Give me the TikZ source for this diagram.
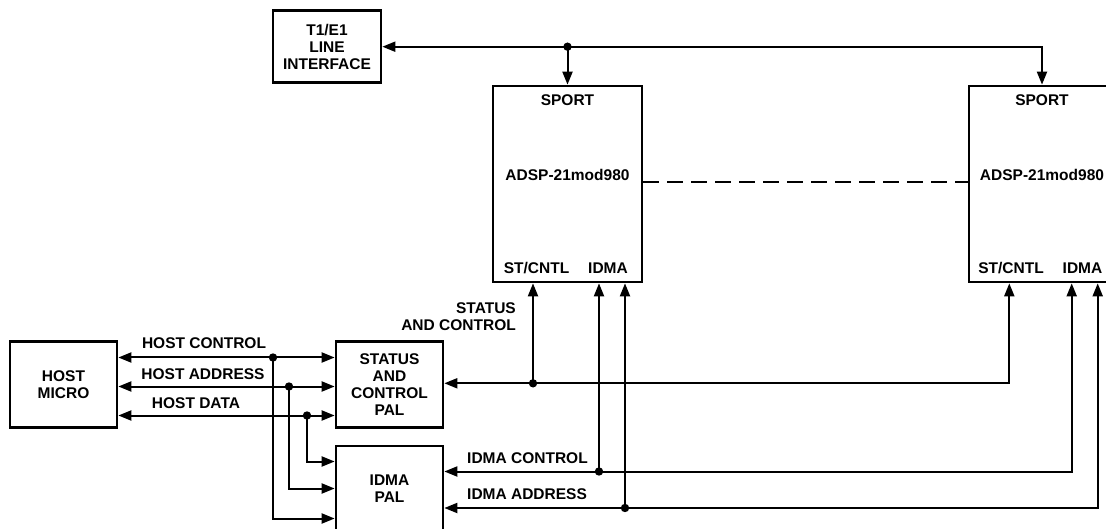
\documentclass[tikz,border=0pt]{standalone}
\usepackage{fontspec}
\setmainfont{Liberation Sans}
\usetikzlibrary{arrows.meta}
\begin{document}
\begin{tikzpicture}[x=1pt,y=-1pt,
  every node/.style={font=\fontsize{15.5}{17}\selectfont\bfseries, inner sep=0pt},
  blk/.style={draw, line width=2.7pt, align=center},
  lbl/.style={align=center},
  wire/.style={line width=2pt},
  arr/.style={wire,-{Triangle[length=13pt,width=10pt]}},
  arrb/.style={wire,{Triangle[length=13pt,width=10pt]}-{Triangle[length=13pt,width=10pt]}},
  dashln/.style={line width=2.8pt, dash pattern=on 16pt off 8pt}]
\useasboundingbox (0,0) rectangle (1106,529);
\clip (0,0) rectangle (1106,529);

% blocks
\node[blk, minimum width=108, minimum height=72] (t1) at (327,46.7) {T1/E1\\LINE\\INTERFACE};
\node[blk, minimum width=149, minimum height=196] (dsp1) at (567.5,184) {};
\node[blk, minimum width=146, minimum height=196] (dsp2) at (1042,184) {};
\node[blk, minimum width=107, minimum height=86] (host) at (63.5,384.7) {HOST\\MICRO};
\node[blk, minimum width=107, minimum height=86] (stpal) at (389.5,384.7) {STATUS\\AND\\CONTROL\\PAL};
\node[blk, minimum width=107, minimum height=85] (idmapal) at (389.5,488.5) {IDMA\\PAL};

% labels inside DSP boxes
\node (sp1) at ([yshift=84]dsp1.center) {SPORT};
\node (ad1) at ([yshift=9]dsp1.center) {ADSP-21mod980};
\node (st1) at ([xshift=-31,yshift=-84]dsp1.center) {ST/CNTL};
\node (id1) at ([xshift=40.5,yshift=-84]dsp1.center) {IDMA};
\node (sp2) at ([yshift=84]dsp2.center) {SPORT};
\node (ad2) at ([yshift=9]dsp2.center) {ADSP-21mod980};
\node (st2) at ([xshift=-31,yshift=-84]dsp2.center) {ST/CNTL};
\node (id2) at ([xshift=40.5,yshift=-84]dsp2.center) {IDMA};

% top serial bus
\coordinate (jtop) at (dsp1.north |- t1.east);
\draw[arr] (jtop) -- (t1.east);
\draw[arr] (jtop) -- (dsp1.north);
\draw[arr] (jtop) -| (dsp2.north);
\fill (jtop) circle (4.2);

% dashed link
\draw[dashln] ([yshift=2]dsp1.east) -- ([yshift=2]dsp2.west);

% host buses
\coordinate (jc) at (273,357.5);
\coordinate (ja) at (289,386.5);
\coordinate (jd) at (307,415.5);
\draw[arrb] (host.east |- jc) -- (stpal.west |- jc);
\draw[arrb] (host.east |- ja) -- (stpal.west |- ja);
\draw[arrb] (host.east |- jd) -- (stpal.west |- jd);
\draw[arr] (jd) |- ([yshift=27]idmapal.west);
\draw[arr] (ja) |- (idmapal.west);
\draw[arr] (jc) |- ([yshift=-30]idmapal.west);
\fill (jc) circle (4.2);
\fill (ja) circle (4.2);
\fill (jd) circle (4.2);

% DSP lower ports
\coordinate (d1s) at ([xshift=-34.5]dsp1.south);
\coordinate (d1a) at ([xshift=31.5]dsp1.south);
\coordinate (d1b) at ([xshift=57.5]dsp1.south);
\coordinate (d2s) at ([xshift=-32.7]dsp2.south);
\coordinate (d2a) at ([xshift=29.7]dsp2.south);
\coordinate (d2b) at ([xshift=55.7]dsp2.south);
\coordinate (lst) at ([yshift=1.4]stpal.east);
\coordinate (lic) at ([yshift=17]idmapal.east);
\coordinate (lia) at ([yshift=-19.5]idmapal.east);

\draw[arrb] (lst) -| (d2s);
\coordinate (jst) at (d1s |- lst);
\draw[arr] (jst) -- (d1s);
\fill (jst) circle (4.2);

\draw[arrb] (lic) -| (d2a);
\coordinate (jic) at (d1a |- lic);
\draw[arr] (jic) -- (d1a);
\fill (jic) circle (4.2);

\draw[arrb] (lia) -| (d2b);
\coordinate (jia) at (d1b |- lia);
\draw[arr] (jia) -- (d1b);
\fill (jia) circle (4.2);

% bus labels
\node (lhc) at (204,343.3) {HOST CONTROL};
\node (lha) at (203,374) {HOST ADDRESS};
\node (lhd) at (196,403.3) {HOST DATA};
\node[align=right, anchor=east] (lsc) at (516,316.4) {STATUS\\AND CONTROL};
\node[anchor=west] (lidc) at (467,458) {IDMA CONTROL};
\node[anchor=west] (lida) at (467,494) {IDMA ADDRESS};
\end{tikzpicture}
\end{document}
